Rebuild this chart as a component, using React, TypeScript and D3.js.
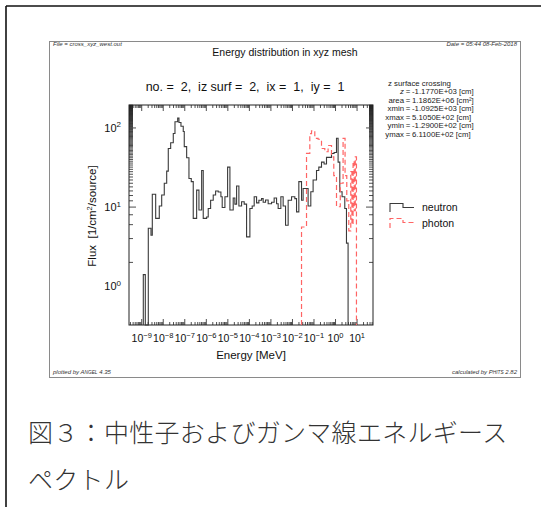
import React from 'react';
import * as d3 from 'd3';

const W = 541;
const H = 507;
const SANS = '"Liberation Sans", Arial, Helvetica, sans-serif';
const CJK = '"Noto Sans CJK JP", "Noto Sans CJK SC", sans-serif';

// neutron flux histogram: [log10(lower bin edge / MeV), flux 1/cm2/source]
const neutronBins: [number, number][] = [
  [-8.926, 1.4], [-8.833, 0], [-8.694, 5.4], [-8.569, 4.4], [-8.508, 14.5],
  [-8.351, 7.2], [-8.184, 10.3], [-8.072, 14.2], [-7.952, 20], [-7.84, 28.5],
  [-7.766, 55], [-7.655, 65], [-7.534, 85], [-7.455, 120], [-7.33, 133],
  [-7.27, 117], [-7.177, 105], [-7.071, 90], [-7.024, 58], [-6.913, 42],
  [-6.806, 23], [-6.699, 21], [-6.607, 7.2], [-6.449, 16.4], [-6.342, 9.2],
  [-6.217, 29], [-6.143, 7.2], [-5.985, 7.5], [-5.911, 9.6], [-5.8, 12.2],
  [-5.679, 14.2], [-5.568, 16], [-5.447, 15.5], [-5.322, 13.5], [-5.262, 9.9],
  [-5.136, 13.5], [-5.011, 32], [-4.904, 9.2], [-4.751, 13], [-4.673, 10.9],
  [-4.594, 18.5], [-4.487, 10.3], [-4.362, 11.7], [-4.241, 10.9], [-4.13, 4.2],
  [-3.977, 9.6], [-3.87, 10.3], [-3.777, 13.5], [-3.666, 11.3], [-3.559, 12.2],
  [-3.434, 12.8], [-3.36, 11.5], [-3.249, 12.3], [-3.128, 11], [-2.97, 11.5],
  [-2.85, 13], [-2.738, 11], [-2.664, 9.6], [-2.539, 13.5], [-2.432, 10.3],
  [-2.321, 5.9], [-2.2, 12.2], [-2.043, 13.5], [-1.89, 12.8], [-1.811, 8.7],
  [-1.704, 21], [-1.579, 12.2], [-1.505, 17.2], [-1.273, 10.3], [-1.148, 15.6],
  [-1.041, 22], [-0.883, 29], [-0.777, 32], [-0.651, 37], [-0.531, 35],
  [-0.419, 42.5], [-0.187, 47.6], [-0.067, 49], [0.045, 74], [0.119, 37],
  [0.198, 15.6], [0.304, 13.5], [0.43, 9.6], [0.508, 3.5],
];
const neutronEnd = 0.583;

// photon flux histogram
const photonBins: [number, number][] = [
  [-1.579, 5.6], [-1.347, 47.6], [-1.194, 85], [-1.115, 92], [-0.962, 74],
  [-0.809, 72], [-0.651, 55], [-0.498, 50], [-0.345, 60], [-0.187, 43],
  [-0.081, 25], [0.045, 10.1], [0.221, 20], [0.351, 74], [0.443, 25],
  [0.522, 12], [0.615, 5], [0.708, 28], [0.763, 6], [0.814, 38],
  [0.865, 9], [0.917, 43],
];
const photonEnd = 0.972;

const xDecades = [-9, -8, -7, -6, -5, -4, -3, -2, -1, 0, 1];
const yDecades = [0, 1, 2];

const infoRows = [
  ['z', '-1.1770E+03', '[cm]'],
  ['area', ' 1.1862E+06', '[cm²]'],
  ['xmin', '-1.0925E+03', '[cm]'],
  ['xmax', ' 5.1050E+02', '[cm]'],
  ['ymin', '-1.2900E+02', '[cm]'],
  ['ymax', ' 6.1100E+02', '[cm]'],
];

const plot = { left: 129, right: 373, top: 105, bottom: 325 };

const x = d3.scaleLog().domain([Math.pow(10, -9.59), Math.pow(10, 1.74)]).range([plot.left, plot.right]);
const y = d3.scaleLog().domain([Math.pow(10, -0.49), Math.pow(10, 2.29)]).range([plot.bottom, plot.top]);
const yFloor = y.domain()[0];

function stairs(bins: [number, number][], end: number) {
  const pts: [number, number][] = [[bins[0][0], yFloor]];
  bins.forEach(([e, v]) => pts.push([e, v > 0 ? v : yFloor]));
  pts.push([end, yFloor]);
  return d3.line<[number, number]>()
    .x(d => x(Math.pow(10, d[0])))
    .y(d => y(d[1]))
    .curve(d3.curveStepAfter)(pts) || '';
}

const isMajor = (t: number) => Math.abs(Math.log10(t) - Math.round(Math.log10(t))) < 1e-6;
const expo = (d: number) => (d < 0 ? '\u2212' + Math.abs(d) : String(d));

export default function App() {
  const xt = x.ticks(100);
  const yt = y.ticks(100);
  return (
    <svg width={W} height={H} style={{ position: 'absolute', left: 0, top: 0, background: '#fff' }}
      fontFamily={SANS}>
      {/* page frame */}
      <line x1={6} y1={6} x2={W} y2={6} stroke="#111" strokeWidth={1.6} />
      <line x1={6} y1={6} x2={6} y2={H} stroke="#111" strokeWidth={1.6} />

      {/* figure box */}
      <rect x={49.5} y={41.5} width={471} height={336} fill="#fff" stroke="#8a8a8a" strokeWidth={1} />
      <text x={53} y={46} fontSize={6} fontStyle="italic" fill="#333">File = cross_xyz_west.out</text>
      <text x={517} y={46} fontSize={6} fontStyle="italic" fill="#333" textAnchor="end">Date = 05:44 08-Feb-2018</text>
      <text x={285} y={56} fontSize={10.5} textAnchor="middle" fill="#111">Energy distribution in xyz mesh</text>
      <text x={245} y={91} fontSize={12.5} textAnchor="middle" fill="#111" style={{ whiteSpace: 'pre' }}>
        {'no. =  2,  iz surf =  2,  ix =  1,  iy =  1'}
      </text>

      {/* info block */}
      <text x={388} y={85.5} fontSize={7.8} fill="#222">z surface crossing</text>
      {infoRows.map((r, i) => {
        const by = 94 + i * 8.5;
        return (
          <g key={r[0]} fontSize={7.8} fill="#222" style={{ whiteSpace: 'pre' }}>
            <text x={404} y={by} textAnchor="end" fontStyle={i === 0 ? 'italic' : 'normal'}>{r[0]}</text>
            <text x={408} y={by} textAnchor="middle">=</text>
            <text x={412} y={by}>{r[1] + ' ' + r[2]}</text>
          </g>
        );
      })}

      {/* plot frame and ticks */}
      <rect x={plot.left} y={plot.top} width={plot.right - plot.left} height={plot.bottom - plot.top}
        fill="none" stroke="#222" strokeWidth={1} />
      {xt.map((t, i) => {
        const px = x(t);
        const len = isMajor(t) ? 6 : 3;
        return (
          <g key={'xt' + i} stroke="#222" strokeWidth={0.8}>
            <line x1={px} x2={px} y1={plot.bottom} y2={plot.bottom - len} />
            <line x1={px} x2={px} y1={plot.top} y2={plot.top + len} />
          </g>
        );
      })}
      {yt.map((t, i) => {
        const py = y(t);
        const len = isMajor(t) ? 7 : 4;
        return (
          <g key={'yt' + i} stroke="#222" strokeWidth={0.8}>
            <line x1={plot.left} x2={plot.left + len} y1={py} y2={py} />
            <line x1={plot.right} x2={plot.right - len} y1={py} y2={py} />
          </g>
        );
      })}

      {/* tick labels */}
      {xDecades.map(d => (
        <text key={'xl' + d} x={x(Math.pow(10, d))} y={342} fontSize={10.5} textAnchor="middle" fill="#111">
          10<tspan dy={-4.5} fontSize={7.5}>{expo(d)}</tspan>
        </text>
      ))}
      {yDecades.map(d => (
        <text key={'yl' + d} x={121} y={y(Math.pow(10, d)) + 4} fontSize={11} textAnchor="end" fill="#111">
          10<tspan dy={-4.5} fontSize={8}>{expo(d)}</tspan>
        </text>
      ))}

      {/* axis titles */}
      <text x={251} y={359} fontSize={11.5} textAnchor="middle" fill="#111">Energy [MeV]</text>
      <text transform="translate(96,216) rotate(-90)" fontSize={11.5} textAnchor="middle" fill="#111"
        style={{ whiteSpace: 'pre' }}>
        {'Flux  [1/cm'}<tspan dy={-4} fontSize={7.5}>2</tspan><tspan dy={4}>/source]</tspan>
      </text>

      {/* data */}
      <path d={stairs(neutronBins, neutronEnd)} fill="none" stroke="#3a3a3a" strokeWidth={1.1} />
      <path d={stairs(photonBins, photonEnd)} fill="none" stroke="#ff6464" strokeWidth={1.2}
        strokeDasharray="5,3" />

      {/* legend */}
      <path d="M390,212V203.5H403V207.5H414" fill="none" stroke="#3a3a3a" strokeWidth={1.1} />
      <text x={422} y={211} fontSize={10.5} fill="#111">neutron</text>
      <path d="M390,228V218.5H403V222.5H414" fill="none" stroke="#ff6464" strokeWidth={1.2} strokeDasharray="5,3" />
      <text x={422} y={227} fontSize={10.5} fill="#111">photon</text>

      {/* footer */}
      <text x={53} y={374} fontSize={6} fontStyle="italic" fill="#333">
        plotted by A<tspan fontSize={4.8}>NGEL</tspan> 4.35
      </text>
      <text x={517} y={374} fontSize={6} fontStyle="italic" fill="#333" textAnchor="end">
        calculated by P<tspan fontSize={4.8}>HITS</tspan> 2.82
      </text>

      {/* caption */}
      <text x={28} y={442} fontSize={25} fontFamily={CJK} fontWeight={300} fill="#333" letterSpacing={0.3}>
        図３：中性子およびガンマ線エネルギース
      </text>
      <text x={28} y={489} fontSize={25} fontFamily={CJK} fontWeight={300} fill="#333" letterSpacing={0.3}>
        ペクトル
      </text>
    </svg>
  );
}
